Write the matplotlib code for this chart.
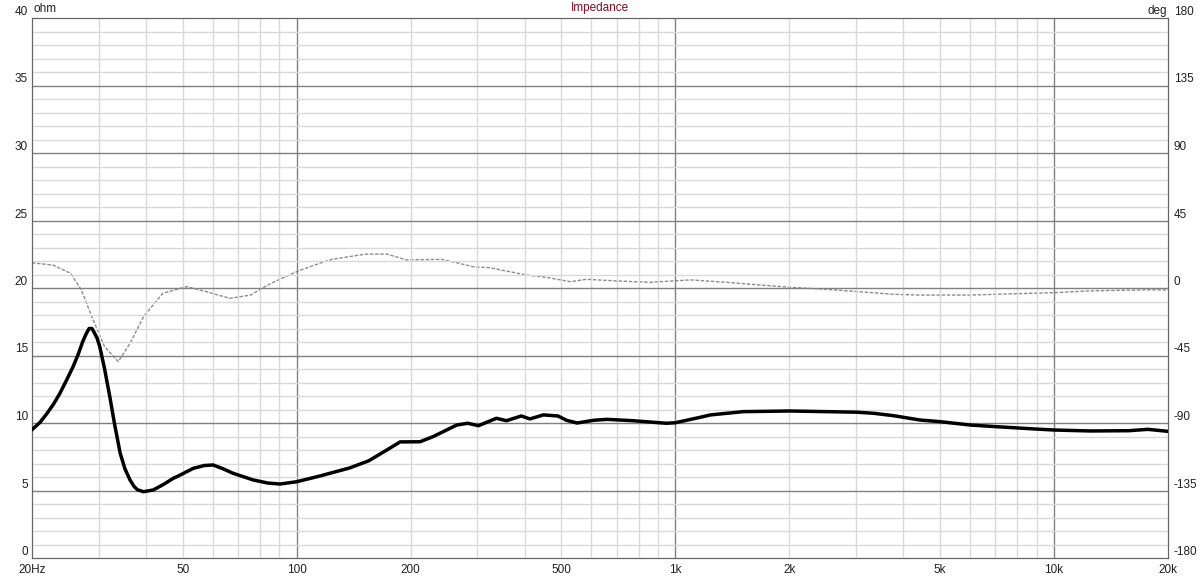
import numpy as np
import matplotlib
matplotlib.use("Agg")
import matplotlib.pyplot as plt

# impedance magnitude (ohm)
imp_freq = [20, 21.0, 21.9, 22.8, 23.7, 24.7, 25.7, 26.5, 27.2, 27.8, 28.3, 28.8, 29.2,
            29.7, 30.2, 31.1, 32.1, 33.1, 34.2, 35.2, 36.3, 37.2, 38.0, 39.4,
            41.8, 44.5, 47.2, 48.9, 53.3, 57, 60.2, 64, 68, 76.8, 84, 90.4, 100, 115,
            138, 155, 173, 187.6, 211.7, 229.6, 264.6, 283, 302, 337, 358, 392, 413,
            448, 490, 516, 550, 608, 660, 773, 947, 1000, 1162, 1239, 1510, 2000,
            3015, 3340, 3772, 4430, 5000, 6005, 7010, 8860, 10000, 12500, 15770,
            17700, 20000]
imp_ohm = [9.5, 10.05, 10.7, 11.4, 12.2, 13.2, 14.2, 15.1, 16.0, 16.6, 17.0, 17.0, 16.7,
           16.3, 15.65, 14.0, 11.95, 9.8, 7.75, 6.6, 5.78, 5.3, 5.05, 4.91,
           5.04, 5.45, 5.9, 6.1, 6.64, 6.85, 6.89, 6.6, 6.27, 5.78, 5.55, 5.48, 5.65, 6.07,
           6.67, 7.2, 8.0, 8.6, 8.61, 9.0, 9.85, 9.98, 9.8, 10.35, 10.17, 10.52, 10.3,
           10.6, 10.52, 10.2, 10.0, 10.2, 10.27, 10.17, 9.98, 10.02, 10.42, 10.6, 10.84, 10.89,
           10.8, 10.72, 10.54, 10.22, 10.1, 9.85, 9.73, 9.56, 9.48, 9.41, 9.43,
           9.53, 9.38]

# phase (deg)
ph_freq = [20, 22.7, 25.3, 27.0, 29.0, 31.1, 33.8, 36.3, 39.4, 44.3, 51.2, 57.8, 66.6,
           75.5, 85.5, 100, 115, 124, 152, 173, 195, 241, 265, 292, 324, 358, 404, 457,
           528, 583, 701, 857, 1094, 1367, 1675, 2000, 2510, 3060, 3772, 4430, 6005,
           7010, 10000, 12500, 17700, 20000]
ph_deg = [16.8, 15.3, 9.8, -1.3, -21.3, -39.1, -49.1, -36.9, -19.2, -3.5, 0.9, -2.5, -6.9,
          -4.7, 3.1, 10.9, 16.5, 19.1, 22.6, 22.6, 18.7, 19.1, 16.8, 14.2, 13.5, 11.3, 8.7, 7.1,
          4.2, 5.8, 4.7, 3.8, 5.4, 3.8, 2.0, 0.5, -0.9, -2.5, -4.2, -4.7, -4.7,
          -4.2, -3.1, -1.9, -1.2, -1.3]

x_ticks = [20, 50, 100, 200, 500, 1000, 2000, 5000, 10000, 20000]
x_labels = ["20Hz", "50", "100", "200", "500", "1k", "2k", "5k", "10k", "20k"]
y_ticks = list(range(0, 41, 5))
deg_ticks = list(range(-180, 181, 45))

plt.rcParams['font.family'] = ['Liberation Sans', 'DejaVu Sans']
plt.rcParams['axes.unicode_minus'] = False
fig = plt.figure(figsize=(12, 5.76), dpi=100)
ax = fig.add_axes([32 / 1200, 18 / 576, 1136 / 1200, 540 / 576])

# grid
for dec in [10, 100, 1000, 10000]:
    for m in range(1, 10):
        f = dec * m
        if 20 < f < 20000:
            dark = (m == 1)
            ax.axvline(f, color='#808080' if dark else '#d9d9d9', lw=1, zorder=1)
for v in range(1, 40):
    ax.axhline(v, color='#808080' if v % 5 == 0 else '#d9d9d9', lw=1, zorder=1)

ax.set_xscale('log')
ax.set_xlim(20, 20000)
ax.set_ylim(0, 40)
ax.set_xticks(x_ticks)
ax.set_xticklabels(x_labels)
ax.xaxis.set_minor_locator(matplotlib.ticker.NullLocator())
ax.set_yticks(y_ticks)
ax.tick_params(axis='both', length=0, labelsize=8.5, colors='#202020')
ax.tick_params(axis='y', pad=3)
ax.tick_params(axis='x', pad=4)
for lab in ax.get_yticklabels():
    lab.set_va('bottom')
for sp in ax.spines.values():
    sp.set_color('#646464')

ax2 = ax.twinx()
ax2.set_ylim(-180, 180)
ax2.set_yticks(deg_ticks)
ax2.tick_params(axis='y', length=0, labelsize=8.5, colors='#202020', pad=4)
for lab in ax2.get_yticklabels():
    lab.set_va('bottom')
for sp in ax2.spines.values():
    sp.set_color('#646464')

ax2.plot(ph_freq, ph_deg, color='#8c8c8c', lw=1, dashes=(2.5, 1.2), zorder=3)
ax.plot(imp_freq, imp_ohm, color='black', lw=2.5, zorder=4,
        solid_joinstyle='round', solid_capstyle='round')
ax.set_zorder(ax2.get_zorder() + 1)
ax.patch.set_visible(False)

fig.text(34 / 1200, 1 - 9 / 576, "ohm", fontsize=8.5, va='center', ha='left', color='#202020')
fig.text(1167 / 1200, 1 - 11 / 576, "deg", fontsize=8.5, va='center', ha='right', color='#202020')
fig.text(600 / 1200, 1 - 8 / 576, "Impedance", fontsize=8.5, va='center', ha='center', color='#7a1020')

fig.savefig("out.png", dpi=100)
